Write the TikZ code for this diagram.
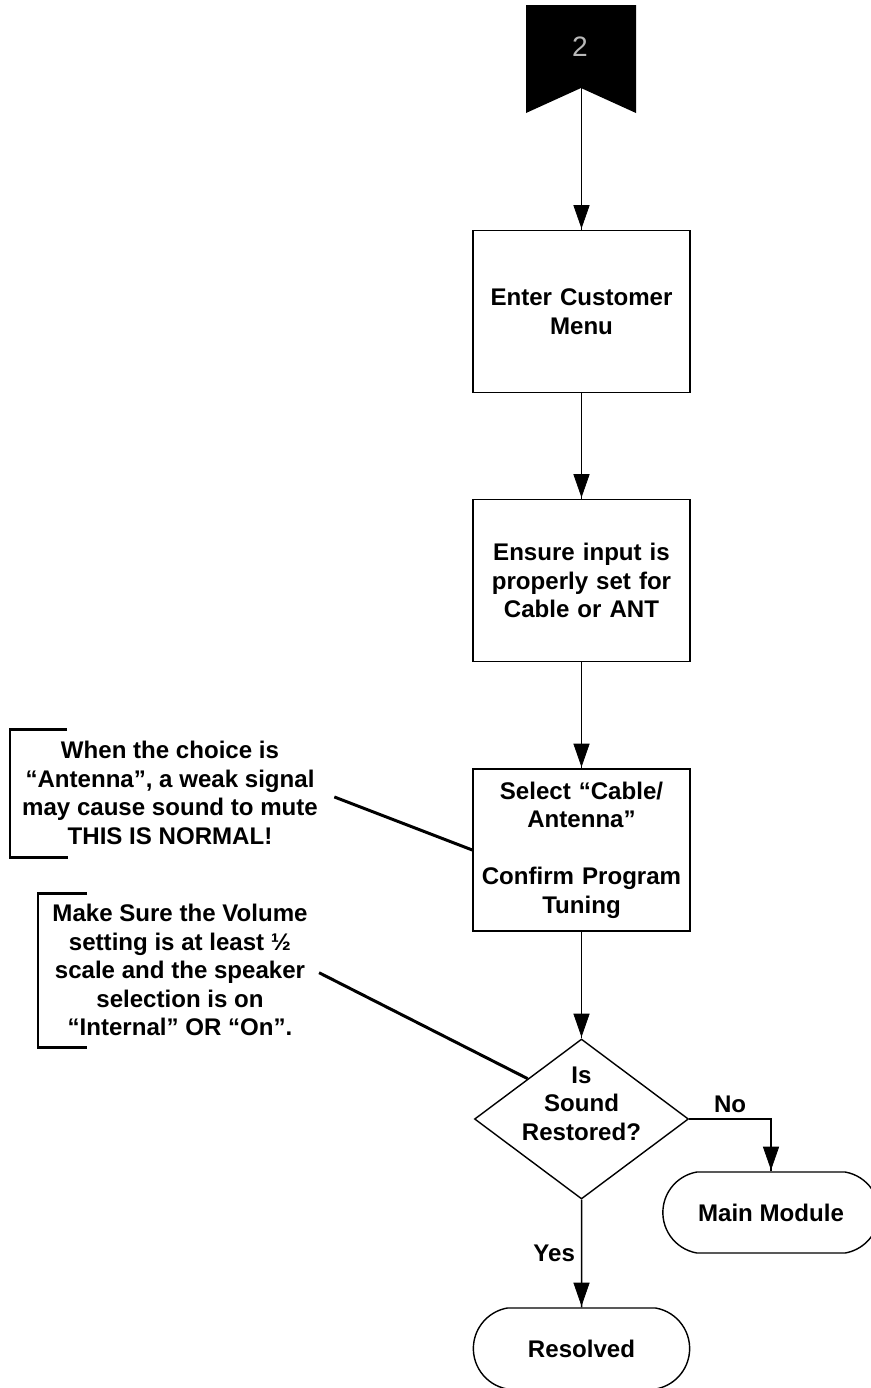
\documentclass[tikz,border=0pt]{standalone}
\usepackage{fontspec}
\setmainfont{Liberation Sans}
\usepackage{tikz}
\usetikzlibrary{positioning, calc, shapes.geometric, shapes.misc, arrows.meta, decorations.markings}
\newcommand{\boxfont}{\fontsize{13.7pt}{16.2pt}\selectfont\bfseries}
\tikzstyle{Arrow} = [
%Create custom arrow style:
line width=0.85pt,
decoration={
markings,
mark=at position 1 with {
\arrow{Triangle[length=0.5cm, width=0.34cm]}
}
},
preaction = {decorate}
]

\begin{document}
\begin{tikzpicture}[
				font=\boxfont,
				process/.style = {rectangle, draw, line width=0.8pt, align=center, text width=4.1cm, minimum width=4.34cm, minimum height=3.24cm},
				decision/.style = {diamond, draw, line width=0.8pt, minimum width=4.28cm, minimum height=3.2cm, inner sep=0pt},
				terminal/.style = {rounded rectangle, rounded rectangle arc length=160, draw, line width=0.8pt, minimum width=4.56cm, minimum height=1.62cm},
				note/.style = {align=center},
				noteline/.style = {line width=1.7pt},
			]
			\useasboundingbox (0,0) rectangle (17.4,-27.76);

			% off-page connector
			\fill (10.52,-0.1) -- (12.72,-0.1) -- (12.72,-2.26) -- (11.62,-1.76) -- (10.52,-2.26) -- cycle;
			\node(C2) at (11.6,-0.94){\normalfont\fontsize{16pt}{16pt}\selectfont\color{gray!55}2};
			\coordinate(C2tip) at (11.63,-1.76);

			\node[process](ECM) at (11.63,-6.23){Enter Customer\\Menu};
			\node[process](EI) at (11.63,-11.61){Ensure input is\\properly set for\\Cable or ANT};
			\node[process](SC) at (11.63,-17.0){Select “Cable/\\Antenna”\\[16.2pt]Confirm Program\\Tuning};
			\node[decision](SR) at (11.63,-22.38){};
			\node[note](SRtext) at (11.63,-22.07){Is\\Sound\\Restored?};
			\node[terminal](MM) at (15.42,-24.25){Main Module};
			\node[terminal](RS) at (11.63,-26.97){Resolved};

			% notes
			\node[note](N1) at (3.4,-15.86){When the choice is\\“Antenna”, a weak signal\\may cause sound to mute\\THIS IS NORMAL!};
			\node[note](N2) at (3.6,-19.4){Make Sure the Volume\\setting is at least ½\\scale and the speaker\\selection is on\\“Internal” OR “On”.};
			\draw[noteline] (1.34,-14.58) -| (0.2,-17.14) -- (1.36,-17.14);
			\draw[noteline] (1.74,-17.86) -| (0.76,-20.94) -- (1.74,-20.94);
			\draw[noteline, shorten <=0.22cm](N1.east)--(SC.west);
			\draw[noteline, shorten <=0.12cm](N2.east)--(SR.north west);

			\draw[Arrow](C2tip)--(ECM);
			\draw[Arrow](ECM)--(EI);
			\draw[Arrow](EI)--(SC);
			\draw[Arrow](SC)--(SR);
			\draw[Arrow](SR.east)-|node[pos=0.25, above]{No}(MM);
			\draw[Arrow](SR)--node[midway, left]{Yes}(RS);
		\end{tikzpicture}
\end{document}
